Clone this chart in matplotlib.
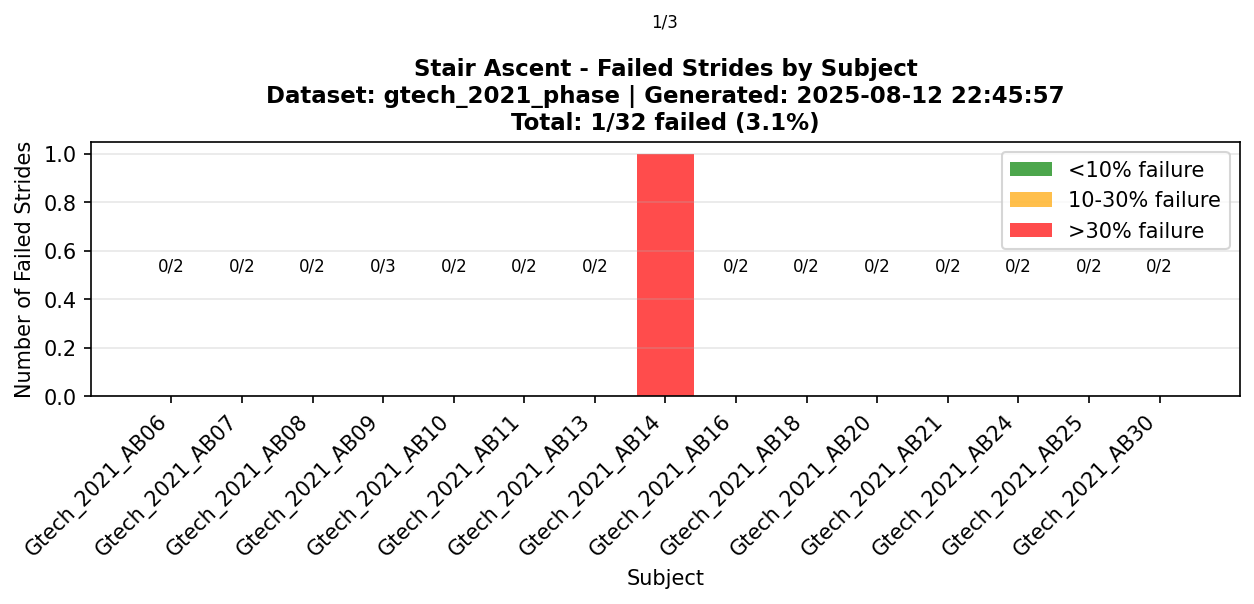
import matplotlib
matplotlib.use("Agg")
import matplotlib.pyplot as plt
from matplotlib.patches import Patch
from matplotlib.ticker import MultipleLocator

# data
subjects = ["Gtech_2021_AB06", "Gtech_2021_AB07", "Gtech_2021_AB08", "Gtech_2021_AB09",
            "Gtech_2021_AB10", "Gtech_2021_AB11", "Gtech_2021_AB13", "Gtech_2021_AB14",
            "Gtech_2021_AB16", "Gtech_2021_AB18", "Gtech_2021_AB20", "Gtech_2021_AB21",
            "Gtech_2021_AB24", "Gtech_2021_AB25", "Gtech_2021_AB30"]
failed = [0, 0, 0, 0, 0, 0, 0, 1, 0, 0, 0, 0, 0, 0, 0]
total = [2, 2, 2, 3, 2, 2, 2, 3, 2, 2, 2, 2, 2, 2, 2]

# colour by failure rate
colors = []
for f, t in zip(failed, total):
    rate = f / t
    if rate < 0.1:
        colors.append("green")
    elif rate < 0.3:
        colors.append("orange")
    else:
        colors.append("red")

fig, ax = plt.subplots(figsize=(8.36, 4.03), dpi=150)
fig.subplots_adjust(left=0.0726, right=0.9888, top=0.765, bottom=0.344)

x = range(len(subjects))
ax.bar(x, failed, color=colors, alpha=0.7)

# per-subject count labels
for i, (f, t) in enumerate(zip(failed, total)):
    ax.text(i, f + 0.5, f"{f}/{t}", ha="center", va="bottom", fontsize=8, clip_on=True)

ax.set_xticks(list(x))
ax.set_xticklabels(subjects, rotation=45, ha="right")
ax.yaxis.set_major_locator(MultipleLocator(0.2))
ax.set_xlabel("Subject")
ax.set_ylabel("Number of Failed Strides")

n_fail = sum(failed)
n_total = sum(total)
ax.set_title("Stair Ascent - Failed Strides by Subject\n"
             "Dataset: gtech_2021_phase | Generated: 2025-08-12 22:45:57\n"
             f"Total: {n_fail}/{n_total} failed ({100 * n_fail / n_total:.1f}%)",
             fontsize=11, fontweight="bold")
ax.grid(axis="y", alpha=0.3)

legend_items = [Patch(facecolor="green", alpha=0.7, label="<10% failure"),
                Patch(facecolor="orange", alpha=0.7, label="10-30% failure"),
                Patch(facecolor="red", alpha=0.7, label=">30% failure")]
ax.legend(handles=legend_items, loc="upper right")

fig.suptitle("1/3", fontsize=8, x=0.53, y=0.978)
plt.savefig("out.png", dpi=150)
